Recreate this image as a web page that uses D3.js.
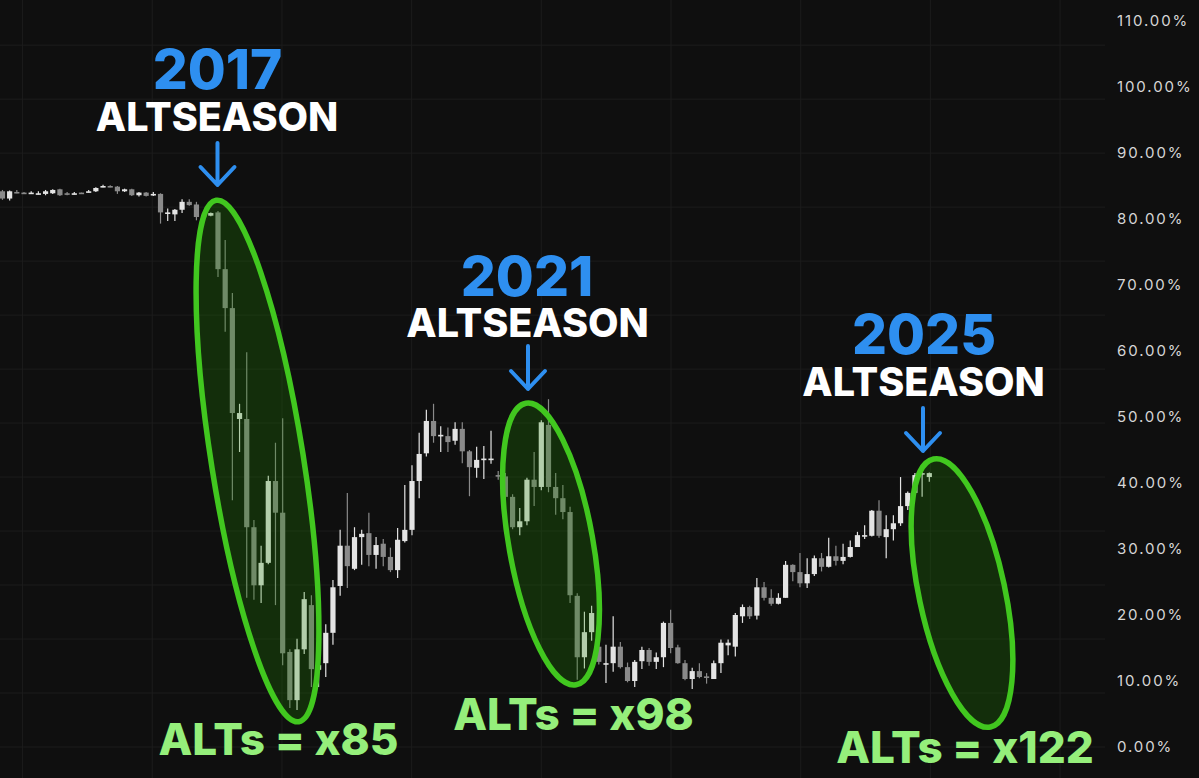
<!DOCTYPE html>
<html><head><meta charset="utf-8">
<script src="https://cdn.jsdelivr.net/npm/d3@7"></script>
<style>html,body{margin:0;padding:0;background:#0f0f0f;overflow:hidden}svg{display:block}</style>
</head><body><svg id="c" width="1199" height="778"></svg>
<script>
// ---- data: BTC dominance candles (percent) ----
const opens = [84.2,83.1,84.1,84.0,83.9,83.9,83.8,83.9,84.5,83.9, 83.8,84.0,84.1,84.2,84.9,85.0,84.9,84.2,84.5,83.6, 84.0,83.8,83.8,81.0,80.7,81.4,82.6,82.2,80.3,80.5, 81.0,72.4,66.5,49.7,49.7,33.3,24.5,27.9,40.3,35.5, 14.4,7.1,14.8,21.5,11.7,12.7,17.3,24.4,30.5,27.0, 31.8,32.4,29.1,30.8,28.8,26.8,31.2,32.9,40.3,44.5, 49.4,47.2,47.1,46.4,48.2,44.8,42.3,43.6,43.6,41.2, 41.0,37.9,33.3,34.2,40.5,39.4,48.8,39.4,37.7,35.6, 22.9,13.6,17.4,15.2,12.7,12.7,15.2,12.1,10.0,13.0, 14.7,12.9,13.6,18.8,15.1,12.7,10.3,11.5,10.7,10.3, 12.7,15.4,15.2,19.8,21.2,19.9,24.2,22.6,21.7,22.6, 27.6,26.5,24.8,26.2,28.6,27.3,28.9,28.2,28.8,30.3, 32.1,32.0,35.8,31.8,33.0,33.9,36.5,38.5,41.4,40.9];
const highs = [84.4,84.3,84.4,84.1,84.2,84.2,84.4,84.5,84.6,84.1, 84.1,84.0,84.4,84.8,85.2,85.1,85.0,84.6,84.6,84.1, 84.1,84.1,83.9,81.6,81.5,83.0,83.0,82.6,80.7,81.0, 81.2,76.8,68.8,52.0,59.8,34.4,30.5,41.1,46.1,49.8, 14.8,16.4,23.5,23.0,12.6,18.6,25.3,32.9,38.5,33.3, 32.9,35.5,31.8,31.5,30.2,33.2,39.7,42.7,47.6,51.1, 52.0,48.6,48.4,49.2,49.2,45.0,45.5,45.6,47.9,41.8, 41.5,38.3,36.2,40.8,44.7,49.5,52.7,41.5,39.7,36.4, 23.3,20.5,21.4,16.5,15.5,19.8,15.9,12.8,13.2,15.2, 15.0,14.3,19.0,20.8,15.5,13.2,12.0,12.7,11.2,13.1, 16.3,16.3,20.3,21.6,21.4,25.6,25.0,23.9,23.3,28.2, 27.7,29.4,28.6,29.0,29.4,31.7,30.5,30.8,31.3,32.6, 33.6,35.9,37.4,35.1,35.1,40.9,38.7,41.5,41.8,41.6];
const lows = [82.9,82.8,83.9,83.8,83.8,83.7,83.6,83.8,83.5,83.6, 83.7,83.8,84.0,84.1,84.8,84.8,83.8,84.1,83.5,83.4, 83.4,83.5,79.3,79.7,79.7,80.9,82.0,79.8,80.1,80.4, 71.2,62.9,37.4,44.7,22.6,22.3,21.8,27.7,21.5,12.4, 5.9,5.6,14.1,9.1,9.1,10.6,15.5,22.9,24.1,26.8, 27.6,27.4,27.0,27.4,26.5,25.6,31.0,32.1,37.7,44.0, 46.1,44.7,44.7,45.8,43.0,38.0,40.8,40.6,42.9,40.5, 37.0,33.0,32.1,33.6,36.5,38.9,38.6,35.2,34.5,21.8, 10.2,11.9,16.1,12.5,9.7,11.4,11.9,9.8,9.1,11.8, 12.3,11.8,12.1,14.2,12.6,10.1,8.8,10.4,9.6,10.3, 11.2,13.9,13.7,18.8,19.4,19.3,22.2,21.4,21.6,22.6, 25.1,24.2,24.1,25.9,26.6,27.2,27.5,27.7,28.7,30.3, 31.5,31.9,31.7,28.6,31.3,33.5,35.9,38.2,37.9,40.2];
const closes = [83.1,84.2,84.0,83.9,84.0,83.9,84.2,84.4,83.6,83.8, 83.9,83.9,84.2,84.7,85.0,84.9,84.2,84.5,83.6,84.0, 83.5,83.8,81.0,81.0,81.4,82.6,82.1,80.3,80.5,80.9, 72.4,66.5,50.6,50.6,33.3,24.5,27.9,40.3,35.5,14.2, 7.1,14.8,22.4,11.8,12.4,17.3,24.2,30.5,27.4,31.8, 32.3,29.1,30.6,28.8,26.8,31.4,32.9,40.3,44.4,49.4, 47.1,47.3,46.2,48.2,44.8,42.4,43.5,43.7,43.7,41.0, 37.9,33.3,34.2,40.5,39.4,49.2,39.4,37.7,35.6,23.0, 13.6,17.4,20.3,12.9,12.7,15.2,12.1,10.0,12.9,14.7, 12.9,13.6,18.8,15.0,12.7,10.3,11.5,10.6,10.6,12.7, 15.8,15.8,20.0,21.2,19.8,24.2,22.6,21.7,22.6,27.6, 26.5,24.8,26.2,28.6,27.3,28.9,28.2,28.8,30.3,32.1, 32.1,35.8,32.0,33.0,33.9,36.5,38.5,41.2,41.5,41.5];

const yTicks = [0,10,20,30,40,50,60,70,80,90,100,110];
const hGridVals = [0,8.18,16.36,24.54,32.72,40.9,49.08,57.26,65.44,73.62,81.8,89.98,98.16,106.34];
const vGridIdx = [2.8,20.85,38.9,56.95,75.0,93.05,111.1,129.15,147.2];

const seasonYears = ["2017","2021","2025"];
const seasonWord = "ALTSEASON";
const altMultipliers = ["ALTs = x85","ALTs = x98","ALTs = x122"];

// ---- layout ----
const W = 1199, H = 778;
const svg = d3.select("#c");
svg.append("rect").attr("width",W).attr("height",H).attr("fill","#0f0f0f");

const x = d3.scaleLinear().domain([0, opens.length-1]).range([2.45, 929.3]);
const y = d3.scaleLinear().domain([0,110]).range([747,21]);
const plotRight = 1105;

// grid
const grid = svg.append("g");
grid.selectAll("line.h").data(hGridVals).join("line")
  .attr("x1",0).attr("x2",plotRight).attr("y1",d=>y(d)).attr("y2",d=>y(d))
  .attr("stroke","#1c1c1c").attr("stroke-width",1);
grid.selectAll("line.v").data(vGridIdx).join("line")
  .attr("x1",d=>x(d)).attr("x2",d=>x(d)).attr("y1",0).attr("y2",H)
  .attr("stroke","#1c1c1c").attr("stroke-width",1);

// right axis
const axis = d3.axisRight(y).tickValues(yTicks).tickSize(0).tickPadding(0)
  .tickFormat(d=>d3.format(".2f")(d)+"%");
const ag = svg.append("g").attr("transform",`translate(1117,0)`).call(axis);
ag.select(".domain").remove();
ag.selectAll("text").attr("fill","#d6d6d6").attr("font-family","Inter, 'Noto Sans', sans-serif")
  .attr("font-size",15).attr("letter-spacing","1.9px").attr("x",0);

// candles
const UP = "#e4e4e4", DOWN = "#8a8a8a";
const data = opens.map((o,i)=>({i,o,c:closes[i],h:Math.max(highs[i],o,closes[i]),l:Math.min(lows[i],o,closes[i])}));
const cg = svg.append("g");
cg.selectAll("line").data(data).join("line")
  .attr("x1",d=>x(d.i)).attr("x2",d=>x(d.i))
  .attr("y1",d=>y(d.h)).attr("y2",d=>y(d.l))
  .attr("stroke",d=>d.c>=d.o?UP:DOWN).attr("stroke-width",1.2);
const bw = 5.2;
cg.selectAll("rect").data(data).join("rect")
  .attr("x",d=>x(d.i)-bw/2).attr("width",bw)
  .attr("y",d=>y(Math.max(d.o,d.c)))
  .attr("height",d=>Math.max(1.6,Math.abs(y(d.o)-y(d.c))))
  .attr("fill",d=>d.c>=d.o?UP:DOWN);

// ellipses
const ellipses = [
  {cx:257.5, cy:461, rx:46, ry:264, rot:-9},
  {cx:551, cy:544, rx:42, ry:143, rot:-10.1},
  {cx:962, cy:593, rx:43, ry:137, rot:-12}
];
svg.append("g").selectAll("ellipse").data(ellipses).join("ellipse")
  .attr("cx",0).attr("cy",0).attr("rx",d=>d.rx).attr("ry",d=>d.ry)
  .attr("transform",d=>`translate(${d.cx},${d.cy}) rotate(${d.rot})`)
  .attr("fill","rgba(30,140,0,0.25)").attr("stroke","#41c71f").attr("stroke-width",5.5);

// annotations
const FONT = "Inter, 'Noto Sans', 'DejaVu Sans', sans-serif";
const BLUE = "#2e8ff0", GREEN = "#95ef7b";
const ann = [
  {yearX:217.5, yearY:89, wordX:217, wordY:131, arrowX:217.5, arrowTop:143, arrowBot:185, multX:278.5, multY:755},
  {yearX:527, yearY:296, wordX:527.5, wordY:337, arrowX:528, arrowTop:346, arrowBot:389, multX:573.5, multY:730},
  {yearX:924, yearY:354, wordX:923.5, wordY:396, arrowX:923, arrowTop:408, arrowBot:451, multX:965, multY:763}
];
const tg = svg.append("g");
ann.forEach((a,k)=>{
  tg.append("text").attr("x",a.yearX).attr("y",a.yearY).attr("text-anchor","middle")
    .attr("font-family",FONT).attr("font-weight",800).attr("font-size",55).attr("fill",BLUE)
    .text(seasonYears[k]);
  tg.append("text").attr("x",a.wordX).attr("y",a.wordY).attr("text-anchor","middle")
    .attr("font-family",FONT).attr("font-weight",800).attr("font-size",39.5).attr("fill","#ffffff")
    .text(seasonWord);
  tg.append("path")
    .attr("d",`M${a.arrowX},${a.arrowTop}L${a.arrowX},${a.arrowBot}M${a.arrowX-17},${a.arrowBot-18}L${a.arrowX},${a.arrowBot}L${a.arrowX+17},${a.arrowBot-18}`)
    .attr("fill","none").attr("stroke",BLUE).attr("stroke-width",4).attr("stroke-linecap","round").attr("stroke-linejoin","round");
  tg.append("text").attr("x",a.multX).attr("y",a.multY).attr("text-anchor","middle")
    .attr("font-family",FONT).attr("font-weight",800).attr("font-size",44).attr("fill",GREEN)
    .text(altMultipliers[k]);
});
</script>
</body></html>
